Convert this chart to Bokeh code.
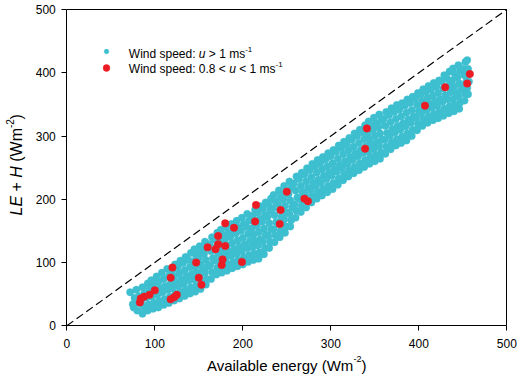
import math
from bokeh.plotting import figure
from bokeh.models import Range1d, FixedTicker, Label, Legend, LegendItem, LinearAxis
from bokeh.embed import file_html
from bokeh.resources import INLINE

# ---------------- data ----------------
x_ticks = [0, 100, 200, 300, 400, 500]
y_ticks = [0, 100, 200, 300, 400, 500]

# wind speed u > 1 m/s  (Available energy, LE + H)
cyan_x = [
    72, 75, 77, 76,
    80, 81, 82, 79,
    86, 87, 85, 88, 86,
    92, 93, 91, 94, 92,
    98, 99, 97, 100, 98, 96,
    104, 105, 103, 106, 104, 102,
    110, 111, 109, 112, 110, 108,
    116, 117, 115, 118, 116, 114,
    122, 123, 121, 124, 122, 120, 123,
    128, 129, 127, 130, 128, 126, 129,
    134, 135, 133, 136, 134, 132, 135,
    140, 141, 139, 142, 140, 138, 141,
    146, 147, 145, 148, 146, 144, 147, 145,
    152, 153, 151, 154, 152, 150, 153, 151,
    158, 159, 157, 160, 158, 156, 159, 157,
    164, 165, 163, 166, 164, 162, 165,
    170, 171, 169, 172, 170, 168, 171,
    176, 177, 175, 178, 176, 174, 177, 175,
    182, 183, 181, 184, 182, 180, 183, 181,
    188, 189, 187, 190, 188, 186, 189, 187,
    194, 195, 193, 196, 194, 192, 195, 193,
    200, 201, 199, 202, 200, 198, 201, 199,
    206, 207, 205, 208, 206, 204, 207, 205,
    212, 213, 211, 214, 212, 210, 213, 211, 214,
    218, 219, 217, 220, 218, 216, 219, 217, 220,
    224, 225, 223, 226, 224, 222, 225, 223, 226,
    230, 231, 229, 232, 230, 228, 231, 229, 232,
    236, 237, 235, 238, 236, 234, 237, 235,
    242, 243, 241, 244, 242, 240, 243, 241,
    248, 249, 247, 250, 248, 246, 249, 247,
    254, 255, 253, 256, 254, 252, 255, 253,
    260, 261, 259, 262, 260, 258, 261,
    266, 267, 265, 268, 266, 264, 267,
    272, 273, 271, 274, 272, 270, 273,
    278, 279, 277, 280, 278, 276, 279,
    284, 285, 283, 286, 284, 282, 285,
    290, 291, 289, 292, 290, 288, 291,
    296, 297, 295, 298, 296, 294, 297,
    302, 303, 301, 304, 302, 300, 303,
    308, 309, 307, 310, 308, 306, 309,
    314, 315, 313, 316, 314, 312, 315,
    320, 321, 319, 322, 320, 318, 321,
    326, 327, 325, 328, 326, 324, 327,
    332, 333, 331, 334, 332, 330, 333,
    338, 339, 337, 340, 338, 336, 339,
    344, 345, 343, 346, 344, 342, 345, 343,
    350, 351, 349, 352, 350, 348, 351, 349,
    356, 357, 355, 358, 356, 354, 357, 355,
    362, 363, 361, 364, 362, 360, 363,
    368, 369, 367, 370, 368, 366, 369,
    374, 375, 373, 376, 374, 372, 375,
    380, 381, 379, 382, 380, 378, 381,
    386, 387, 385, 388, 386, 384, 387,
    392, 393, 391, 394, 392, 390, 393,
    398, 399, 397, 400, 398, 396, 399,
    404, 405, 403, 406, 404, 402, 405,
    410, 411, 409, 412, 410, 408, 411,
    416, 417, 415, 418, 416, 414, 417,
    422, 423, 421, 424, 422, 420, 423,
    428, 429, 427, 430, 428, 426, 429,
    434, 435, 433, 436, 434, 432, 435,
    440, 441, 439, 442, 440, 438, 441, 439,
    446, 447, 445, 448, 446, 444, 447, 445,
    452, 453, 451, 454, 452, 450, 453,
    456, 455, 457, 455, 456, 455,
]
cyan_y = [
    53, 34, 44, 29,
    24, 36, 47, 57,
    19, 30, 40, 51, 61,
    24, 34, 45, 57, 67,
    27, 36, 46, 55, 64, 72,
    29, 39, 49, 59, 69, 78,
    33, 42, 53, 63, 74, 84,
    36, 46, 57, 67, 79, 90,
    40, 49, 59, 68, 78, 88, 97,
    43, 53, 63, 73, 83, 93, 103,
    47, 57, 67, 78, 88, 99, 109,
    51, 61, 72, 82, 93, 104, 115,
    54, 63, 73, 83, 92, 102, 112, 121,
    58, 67, 77, 87, 97, 107, 117, 126,
    65, 74, 84, 94, 104, 114, 124, 133,
    74, 85, 96, 107, 118, 129, 140,
    81, 92, 103, 114, 125, 136, 147,
    84, 94, 104, 114, 124, 134, 143, 152,
    87, 97, 107, 117, 127, 137, 147, 156,
    91, 101, 111, 121, 131, 141, 151, 161,
    94, 104, 114, 125, 135, 146, 156, 166,
    97, 108, 118, 129, 139, 150, 161, 171,
    101, 112, 123, 134, 145, 156, 166, 177,
    104, 114, 124, 134, 144, 154, 164, 174, 183,
    106, 116, 127, 137, 148, 158, 169, 179, 189,
    113, 123, 133, 144, 154, 165, 175, 185, 195,
    123, 133, 142, 152, 162, 172, 182, 192, 201,
    132, 143, 153, 164, 175, 186, 197, 207,
    140, 150, 161, 172, 183, 193, 204, 214,
    147, 157, 168, 179, 190, 200, 211, 221,
    157, 167, 177, 187, 198, 208, 218, 228,
    171, 182, 192, 203, 214, 225, 236,
    180, 190, 200, 211, 221, 232, 242,
    187, 197, 207, 218, 228, 239, 249,
    195, 205, 215, 225, 235, 246, 256,
    201, 211, 221, 231, 242, 252, 262,
    206, 216, 226, 237, 247, 257, 267,
    211, 221, 232, 242, 252, 263, 273,
    216, 226, 237, 247, 257, 268, 278,
    223, 233, 244, 254, 264, 275, 285,
    230, 240, 250, 260, 271, 281, 291,
    236, 246, 256, 267, 277, 287, 297,
    241, 251, 262, 273, 283, 294, 304,
    246, 257, 268, 278, 289, 300, 310,
    251, 262, 273, 284, 295, 306, 317,
    256, 266, 275, 285, 294, 304, 314, 323,
    260, 270, 280, 290, 300, 310, 320, 329,
    264, 274, 284, 294, 304, 314, 324, 334,
    272, 283, 294, 305, 316, 327, 338,
    279, 290, 300, 311, 322, 333, 344,
    285, 295, 306, 316, 327, 338, 349,
    289, 299, 310, 320, 331, 342, 352,
    293, 304, 315, 326, 337, 348, 358,
    300, 310, 321, 331, 341, 352, 362,
    309, 319, 329, 339, 349, 359, 368,
    316, 326, 336, 345, 355, 365, 374,
    321, 331, 341, 350, 360, 370, 379,
    325, 335, 345, 355, 364, 374, 384,
    328, 338, 348, 358, 368, 378, 388,
    332, 343, 354, 364, 375, 386, 396,
    336, 347, 358, 369, 380, 391, 402,
    339, 349, 358, 368, 378, 388, 398, 407,
    343, 353, 363, 373, 383, 393, 403, 412,
    356, 366, 376, 386, 396, 406, 417,
    366, 376, 386, 396, 406, 420,
]

# wind speed 0.8 < u < 1 m/s
red_x = [83, 84, 88, 94, 100, 118, 122, 125, 118, 120, 147, 150, 153, 160, 169,
         172, 180, 172, 177, 176, 199, 180, 190, 214, 215, 243, 242, 250, 270, 274,
         339, 341, 407, 430, 455, 458]
red_y = [37, 43, 46, 49, 56, 42, 45, 49, 76, 92, 100, 76, 65, 124, 121,
         129, 126, 142, 105, 96, 101, 162, 155, 165, 191, 183, 161, 212, 201, 197,
         280, 312, 348, 377, 383, 398]

CYAN = "#3DBFD0"
RED = "#EC1C24"
FONT = "Liberation Sans"

W, H = 517, 376
# plot box on the canvas (pixels): left, right, top, bottom
BOX_L, BOX_R, BOX_T, BOX_B = 66.3, 506.3, 9.0, 325.3
x0, x1 = x_ticks[0], x_ticks[-1]
y0, y1 = y_ticks[0], y_ticks[-1]
sx = (BOX_R - BOX_L) / (x1 - x0)
sy = (BOX_B - BOX_T) / (y1 - y0)

p = figure(width=W, height=H,
           x_range=Range1d(x0 - BOX_L / sx, x0 + (W - BOX_L) / sx),
           y_range=Range1d(y0 - (H - BOX_B) / sy, y0 + BOX_B / sy),
           output_backend="svg", toolbar_location=None,
           min_border_left=0, min_border_right=0,
           min_border_top=0, min_border_bottom=0)
p.background_fill_color = "white"
p.border_fill_color = "white"
p.grid.visible = False
p.outline_line_color = None


def style_axis(ax, ticks, standoff, bounds):
    ax.ticker = FixedTicker(ticks=ticks)
    ax.bounds = bounds
    ax.major_tick_out = 5
    ax.major_tick_in = 0
    ax.minor_tick_out = 0
    ax.minor_tick_in = 0
    ax.axis_line_color = "black"
    ax.axis_line_width = 1
    ax.major_tick_line_color = "black"
    ax.major_tick_line_width = 1
    ax.major_label_text_font = FONT
    ax.major_label_text_font_size = "12px"
    ax.major_label_text_color = "black"
    ax.major_label_standoff = standoff


style_axis(p.xaxis[0], x_ticks, 8, (x0, x1))
p.xaxis[0].fixed_location = y0
style_axis(p.yaxis[0], y_ticks, 6, (y0, y1))
p.yaxis[0].fixed_location = x0

# right and top frame lines
right_ax = LinearAxis(fixed_location=x1)
style_axis(right_ax, [], 0, (y0, y1))
top_ax = LinearAxis(fixed_location=y1)
style_axis(top_ax, [], 0, (x0, x1))
p.add_layout(right_ax, "right")
p.add_layout(top_ax, "above")

# 1:1 line
diag = [x0, x1]
p.line(diag, diag, line_color="black", line_width=1.2, line_dash="8 4")

r_cyan = p.scatter(cyan_x, cyan_y, size=7.4, marker="circle",
                   fill_color=CYAN, line_color=CYAN, line_width=0.3)
r_red = p.scatter(red_x, red_y, size=7.5, marker="circle",
                  fill_color=RED, line_color=RED, line_width=0.5)


def make_legend(renderer, loc, gh):
    return Legend(items=[LegendItem(label=" ", renderers=[renderer])],
                  location=loc, glyph_width=20, glyph_height=gh,
                  label_height=gh, padding=0, margin=0, spacing=0,
                  label_standoff=0, label_text_font_size="1px",
                  border_line_alpha=0, background_fill_alpha=0)


p.add_layout(make_legend(r_cyan, (96, H - 56.7), 12))
p.add_layout(make_legend(r_red, (96, H - 75.8), 17))


def lab(x, y, text, size="15px", style="normal", angle=0.0):
    # x, y: canvas pixels measured from the left / top edge
    p.add_layout(Label(x=x, y=H - y, x_units="screen", y_units="screen", text=text,
                       text_font=FONT, text_font_size=size,
                       text_font_style=style, text_color="black",
                       text_align="left", text_baseline="alphabetic",
                       angle=angle))


# legend text
lab(128.3, 53.0, "Wind speed:", "12px")
lab(198.3, 53.0, "u", "12px", "italic")
lab(208.3, 53.0, "> 1 ms", "12px")
lab(244.7, 48.8, "-1", "8px")
lab(128.3, 68.5, "Wind speed: 0.8 <", "12px")
lab(228.7, 68.5, "u", "12px", "italic")
lab(238.7, 68.5, "< 1 ms", "12px")
lab(275.1, 64.3, "-1", "8px")

# x axis title
lab(206.4, 364.7, "Available energy (Wm")
lab(353.1, 358.8, "-2", "9px")
lab(361.1, 364.7, ")")

# y axis title (rotated)
A = math.pi / 2
YB = 15.5
lab(YB, 215.0, "LE", "16px", "italic", A)
lab(YB, 191.0, "+", "16px", angle=A)
lab(YB, 177.3, "H", "16px", "italic", A)
lab(YB, 161.3, "(Wm", "16px", angle=A)
lab(YB - 6.0, 127.5, "-2", "10px", angle=A)
lab(YB, 119.1, ")", "16px", angle=A)

open("out.html", "w").write(file_html(p, INLINE))
